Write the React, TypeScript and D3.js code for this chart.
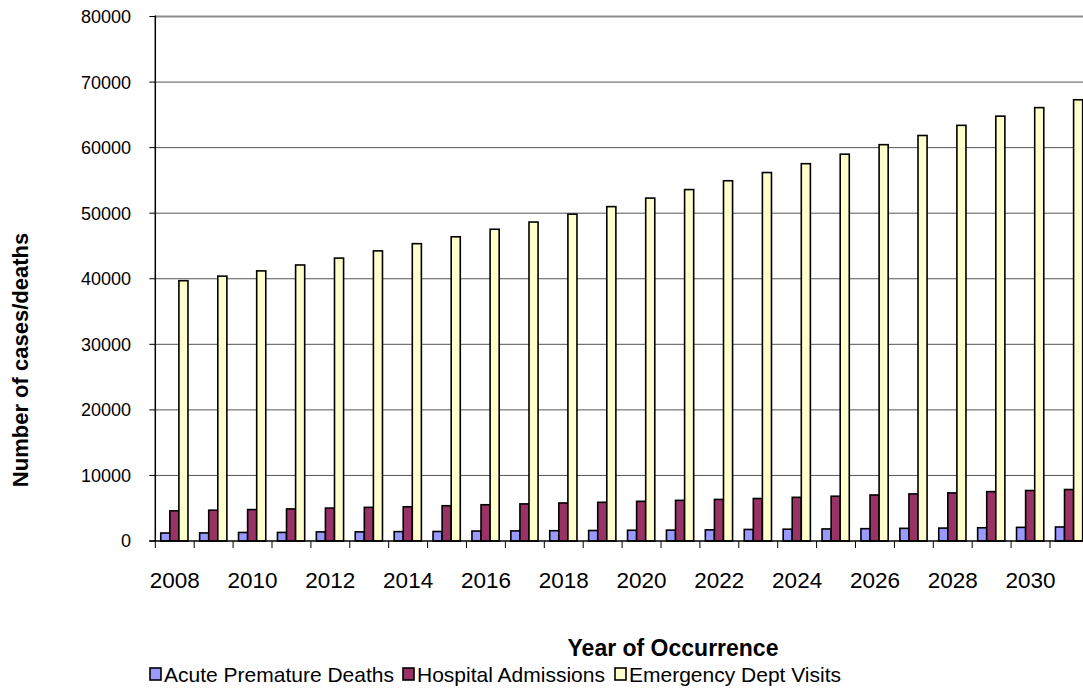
import * as d3 from "d3";

const years = [
  "2008", "2009", "2010", "2011", "2012", "2013", "2014", "2015",
  "2016", "2017", "2018", "2019", "2020", "2021", "2022", "2023",
  "2024", "2025", "2026", "2027", "2028", "2029", "2030", "2031",
];
const xTickLabels = ["2008", "2010", "2012", "2014", "2016", "2018", "2020", "2022", "2024", "2026", "2028", "2030"];
const yTicks = [0, 10000, 20000, 30000, 40000, 50000, 60000, 70000, 80000];

const seriesNames = ["Acute Premature Deaths", "Hospital Admissions", "Emergency Dept Visits"];
const prematureDeaths = [1220, 1230, 1300, 1310, 1390, 1400, 1430, 1450, 1520, 1540, 1570, 1600, 1640, 1660, 1700, 1760, 1800, 1840, 1880, 1930, 1970, 2020, 2080, 2140];
const hospitalAdmissions = [4600, 4700, 4790, 4890, 5020, 5130, 5220, 5380, 5530, 5660, 5800, 5900, 6050, 6200, 6340, 6480, 6660, 6830, 7020, 7180, 7340, 7530, 7700, 7850];
const emergencyVisits = [39700, 40400, 41200, 42100, 43150, 44250, 45350, 46400, 47550, 48650, 49850, 51000, 52300, 53600, 54950, 56200, 57550, 59000, 60450, 61850, 63400, 64800, 66100, 67300];

const colors = ["#9999FF", "#993366", "#FFFFCC"];
const font = "'Liberation Sans', Arial, sans-serif";

export default function App() {
  const width = 1083, height = 693;
  const left = 155.3, top = 16.5, bottom = 541;
  const step = 38.9;

  const x0 = d3.scaleBand().domain(years).range([left, left + step * years.length]);
  const x1 = d3.scaleBand().domain(seriesNames).range([x0.bandwidth() * 0.14, x0.bandwidth() * 0.84]);
  const y = d3.scaleLinear().domain([0, 80000]).range([bottom, top]);

  const series = [prematureDeaths, hospitalAdmissions, emergencyVisits];

  // legend swatch positions
  const legendX = [150, 403, 615];

  return (
    <svg width={width} height={height} style={{ position: "absolute", left: 0, top: 0, display: "block", background: "#fff" }}>
      {/* gridlines */}
      {yTicks.filter((t) => t > 0).map((t) => (
        <line key={t} x1={left} x2={width} y1={y(t)} y2={y(t)}
          stroke={t === 80000 ? "#8c8c8c" : "#555"} strokeWidth={t === 80000 ? 2.2 : 1} />
      ))}

      {/* bars */}
      {years.map((yr, i) => (
        <g key={yr} transform={`translate(${x0(yr)},0)`}>
          {seriesNames.map((s, j) => (
            <rect key={s} x={x1(s)} y={y(series[j][i])} width={x1.bandwidth()}
              height={bottom - y(series[j][i])} fill={colors[j]} stroke="#000" strokeWidth={1.6} />
          ))}
        </g>
      ))}

      {/* y axis */}
      <line x1={left} x2={left} y1={top - 1} y2={bottom} stroke="#000" strokeWidth={1.5} />
      {yTicks.map((t) => (
        <g key={t}>
          <line x1={left - 6} x2={left} y1={y(t)} y2={y(t)} stroke="#000" strokeWidth={1} />
          <text x={131} y={y(t)} dy="0.36em" textAnchor="end" fontFamily={font} fontSize={18} fill="#000">{t}</text>
        </g>
      ))}

      {/* x axis */}
      <line x1={left - 6} x2={width} y1={bottom} y2={bottom} stroke="#000" strokeWidth={1.5} />
      {years.map((yr) => (
        <line key={yr} x1={x0(yr)} x2={x0(yr)} y1={bottom} y2={bottom + 7} stroke="#000" strokeWidth={1} />
      ))}
      {xTickLabels.map((yr) => (
        <text key={yr} x={x0(yr) + x0.bandwidth() / 2} y={588} textAnchor="middle" fontFamily={font} fontSize={22.5} fill="#000">{yr}</text>
      ))}

      {/* axis titles */}
      <text x={673} y={656} textAnchor="middle" fontFamily={font} fontSize={23} fontWeight="bold" fill="#000">Year of Occurrence</text>
      <text transform="translate(28,360) rotate(-90)" textAnchor="middle" fontFamily={font} fontSize={22} fontWeight="bold" fill="#000">Number of cases/deaths</text>

      {/* legend */}
      {seriesNames.map((s, j) => (
        <g key={s} transform={`translate(${legendX[j]},668)`}>
          <rect x={0} y={0} width={11} height={12} fill={colors[j]} stroke="#000" strokeWidth={1.6} />
          <text x={14} y={14} fontFamily={font} fontSize={21} fill="#000">{s}</text>
        </g>
      ))}
    </svg>
  );
}
